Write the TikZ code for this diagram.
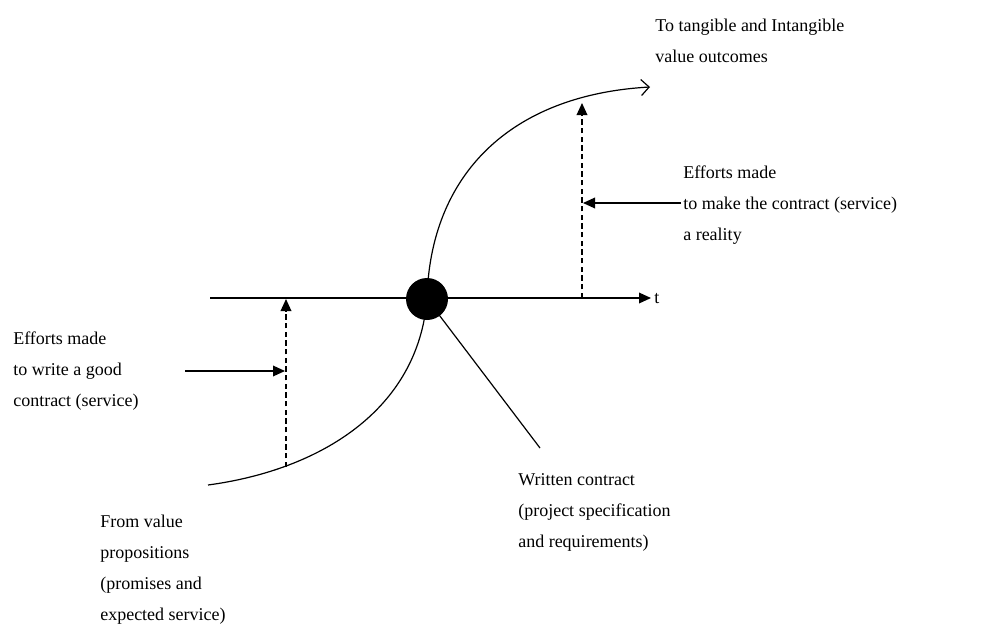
\documentclass[tikz,border=0pt]{standalone}
\usepackage{fontspec}
\setmainfont{Liberation Serif}
\usetikzlibrary{arrows.meta}
\begin{document}
\begin{tikzpicture}[x=0.75pt,y=-0.75pt,
  line/.style={line width=1pt},
  tri/.style={-{Triangle[length=9pt,width=8pt]}},
  dashln/.style={line width=1pt,dash pattern=on 4pt off 2.5pt},
  lbl/.style={anchor=base west,inner sep=0pt,align=left,font=\fontsize{13.5}{23.25}\selectfont}]
\useasboundingbox (0,0) rectangle (1008,628);
% coordinates
\coordinate (axL) at (210,298);
\coordinate (axR) at (651,298);
\coordinate (cS) at (208,485);
\coordinate (cE) at (650,87);
\coordinate (wcEnd) at (540,448);
\coordinate (dL0) at (286,467);
\coordinate (dL1) at (286,299);
\coordinate (dR0) at (582,298);
\coordinate (dR1) at (582,103);
\coordinate (aL0) at (185,371);
\coordinate (aL1) at (285,371);
\coordinate (aR0) at (681,203);
\coordinate (aR1) at (583,203);
% dot
\node[circle,fill=black,inner sep=0pt,minimum size=31.5pt] (dot) at (427,299) {};
% axis
\draw[line,tri] (axL) -- (axR);
\node[lbl] (t) at (654,303) {t};
% curve
\draw[line width=0.9pt] (cS) .. controls (320,470) and (418,410) .. (dot.center);
\draw[line width=0.9pt,-{Straight Barb[length=6pt,width=12pt]}] (dot.center) .. controls (430,175) and (510,95) .. (cE);
% written contract line
\draw[line width=0.9pt] (dot.center) -- (wcEnd);
% dashed arrows
\draw[dashln,tri] (dL0) -- (dL1);
\draw[dashln,tri] (dR0) -- (dR1);
% solid pointer arrows
\draw[line,tri] (aL0) -- (aL1);
\draw[line,tri] (aR0) -- (aR1);
% labels (anchored at the baseline of the last line)
\node[lbl] (top) at (655,62) {To tangible and Intangible\\value outcomes};
\node[lbl] (effR) at (683,240) {Efforts made\\to make the contract (service)\\a reality};
\node[lbl] (effL) at (13,406) {Efforts made\\to write a good\\contract (service)};
\node[lbl] (wc) at (518,547) {Written contract\\(project specification\\and requirements)};
\node[lbl] (from) at (100,620) {From value\\propositions\\(promises and\\expected service)};
\end{tikzpicture}
\end{document}
